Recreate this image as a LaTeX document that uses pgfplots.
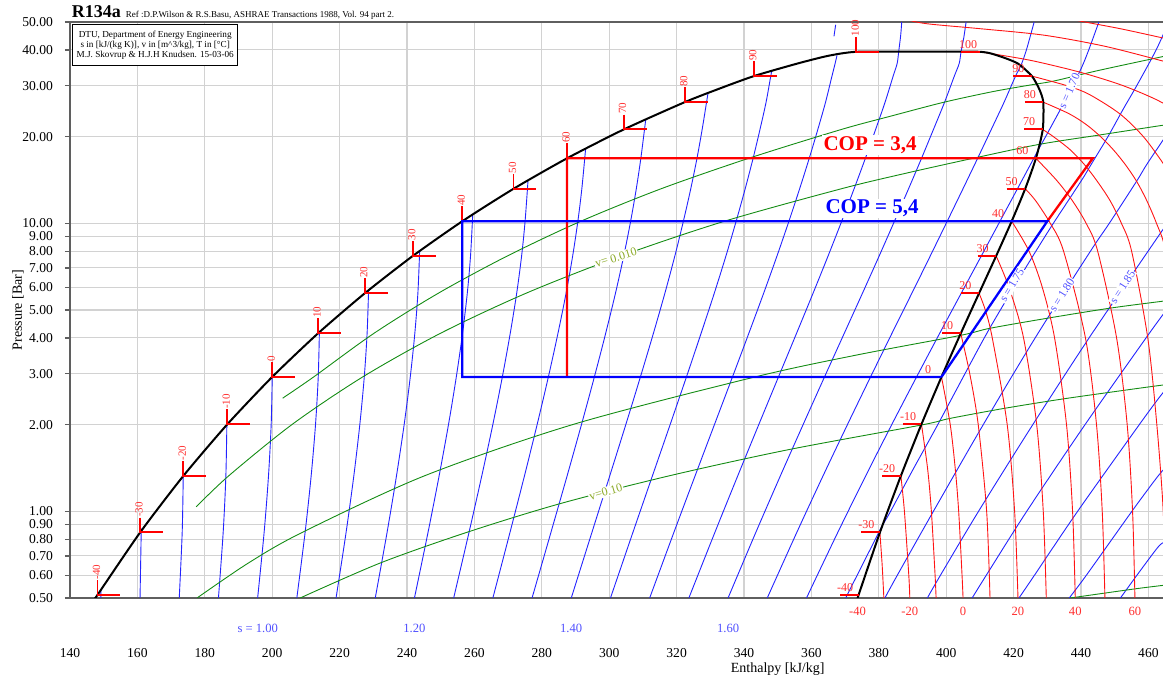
\documentclass[border=0pt]{standalone}
\usepackage{pgfplots}
\pgfplotsset{compat=1.18}
\usepackage{fontspec}
\setmainfont{Liberation Serif}
\definecolor{isen}{RGB}{35,35,255}
\definecolor{isoT}{RGB}{255,20,20}
\definecolor{isoV}{RGB}{20,140,20}
\definecolor{gridc}{RGB}{210,210,210}
\definecolor{axc}{RGB}{95,95,95}
\definecolor{slab}{RGB}{80,80,255}
\definecolor{tlab}{RGB}{255,45,45}
\definecolor{vlab}{RGB}{140,170,40}
\newcommand{\fs}[1]{\fontsize{#1}{#1}\selectfont}
\tikzset{
  ise/.style={draw=isen, line width=0.45pt, smooth},
  iso/.style={draw=isoT, line width=0.45pt, smooth},
  isv/.style={draw=isoV, line width=0.45pt, smooth},
  tk/.style={draw=red, line width=0.9pt},
  ll/.style={font=\fs{5.5}, text=tlab, rotate=90, anchor=west, inner sep=0.6pt, xshift=-0.5pt, yshift=0.5pt},
  vl/.style={font=\fs{6}, text=tlab, anchor=south, inner sep=0.6pt, yshift=1pt},
}
\begin{document}
\begin{tikzpicture}
\begin{axis}[
  name=ax, at={(0,0)}, anchor=south west,
  scale only axis, width=549.31pt, height=288pt,
  xmin=140, xmax=466, ymin=0.5, ymax=50, ymode=log,
  clip mode=individual,
  axis line style={draw=axc, line width=0.7pt},
  xtick={140,160,180,200,220,240,260,280,300,320,340,360,380,400,420,440,460},
  xticklabels={140,160,180,200,220,240,260,280,300,320,340,360,380,400,420,440,460},
  xticklabel style={anchor=center, yshift=-25pt, font=\fs{6.8}},
  xtick style={draw=none},
  ytick={0.5,0.6,0.7,0.8,0.9,1,2,3,4,5,6,7,8,9,10,20,30,40,50},
  yticklabels={0.50,0.60,0.70,0.80,0.90,1.00,2.00,3.00,4.00,5.00,6.00,7.00,8.00,9.00,10.00,20.00,30.00,40.00,50.00},
  yticklabel style={font=\fs{6.8}, xshift=-2.5pt},
  yminorticks=false,
  tick align=outside, major tick length=2.5pt,
  ytick style={draw=axc, line width=0.6pt},
  grid=major, major grid style={draw=gridc, line width=0.55pt},
]
% ---------- isentropes ----------
\addplot[ise, mark=none] coordinates {(149.15,0.5) (149.2,0.535)};
\addplot[ise, mark=none] coordinates {(160.78,0.5) (161.13,0.8438) (161.14,0.854)};
\addplot[ise, mark=none] coordinates {(172.42,0.5) (173.29,0.8438) (173.6,1.325)};
\addplot[ise, mark=none] coordinates {(184.05,0.5) (185.45,0.8438) (186.25,1.3273) (186.54,1.996)};
\addplot[ise, mark=none] coordinates {(195.68,0.5) (197.6,0.8438) (198.9,1.3273) (199.7,2.006) (200,2.928)};
\addplot[ise, mark=none] coordinates {(207.31,0.5) (209.76,0.8438) (211.56,1.3273) (212.86,2.006) (213.66,2.928) (214.0,4.19)};
\addplot[ise, mark=none] coordinates {(218.95,0.5) (221.92,0.8438) (224.22,1.3273) (226.01,2.006) (227.32,2.928) (228.16,4.146) (228.6,5.85)};
\addplot[ise, mark=none] coordinates {(230.58,0.5) (234.08,0.8438) (236.88,1.3273) (239.17,2.006) (240.97,2.928) (242.32,4.146) (243.23,5.717) (243.75,8.0)};
\addplot[ise, mark=none] coordinates {(242.21,0.5) (246.23,0.8438) (249.53,1.3273) (252.33,2.006) (254.63,2.928) (256.48,4.146) (257.89,5.717) (258.85,7.702) (259.5,10.715)};
\addplot[ise, mark=none] coordinates {(253.85,0.5) (258.39,0.8438) (262.19,1.3273) (265.49,2.006) (268.29,2.928) (270.63,4.146) (272.55,5.717) (274.01,7.702) (275.04,10.166) (275.91,14.08)};
\addplot[ise, mark=none] coordinates {(265.48,0.5) (270.55,0.8438) (274.85,1.3273) (278.64,2.006) (281.95,2.928) (284.79,4.146) (287.2,5.717) (289.16,7.702) (290.7,10.166) (291.88,13.179) (293.0,18.14)};
\addplot[ise, mark=none] coordinates {(277.11,0.5) (282.7,0.8438) (287.51,1.3273) (291.8,2.006) (295.6,2.928) (298.95,4.146) (301.86,5.717) (304.32,7.702) (306.36,10.166) (308.04,13.179) (309.39,16.818) (310.84,22.91)};
\addplot[ise, mark=none] coordinates {(288.74,0.5) (294.86,0.8438) (300.16,1.3273) (304.96,2.006) (309.26,2.928) (313.11,4.146) (316.52,5.717) (319.48,7.702) (322.01,10.166) (324.2,13.179) (326.05,16.818) (327.58,21.168) (328.89,26.332) (329.31,28.25)};
\addplot[ise, mark=none] coordinates {(300.38,0.5) (307.02,0.8438) (312.82,1.3273) (318.12,2.006) (322.92,2.928) (327.26,4.146) (331.18,5.717) (334.64,7.702) (337.67,10.166) (340.35,13.179) (342.7,16.818) (344.74,21.168) (346.55,26.332) (347.94,32.442) (348.24,33.81)};
\addplot[ise, mark=none] coordinates {(312.01,0.5) (319.18,0.8438) (325.48,1.3273) (331.27,2.006) (336.58,2.928) (341.42,4.146) (345.83,5.717) (349.79,7.702) (353.33,10.166) (356.51,13.179) (359.36,16.818) (361.9,21.168) (364.2,26.332) (366.1,32.442) (367.04,35.91) (367.6,38.3)};
\addplot[ise, mark=none] coordinates {(366.7,44.6) (367.2,48.9)};
\addplot[ise, mark=none] coordinates {(323.64,0.5) (331.34,0.8438) (338.14,1.3273) (344.43,2.006) (350.23,2.928) (355.58,4.146) (360.49,5.717) (364.95,7.702) (368.99,10.166) (372.67,13.179) (376.02,16.818) (379.05,21.168) (381.86,26.332) (384.26,32.442) (385.45,35.91) (385.9,39.4) (386.5,45) (386.8,50)};
\addplot[ise, mark=none] coordinates {(335.27,0.5) (343.49,0.8438) (350.79,1.3273) (357.59,2.006) (363.89,2.928) (369.74,4.146) (375.15,5.717) (380.11,7.702) (384.64,10.166) (388.83,13.179) (392.68,16.818) (396.21,21.168) (399.52,26.332) (402.41,32.442) (403.86,35.91) (404.4,39.4) (405.2,44) (405.9,50)};
\addplot[ise, mark=none] coordinates {(346.9,0.5) (355.65,0.8438) (363.45,1.3273) (370.75,2.006) (377.55,2.928) (383.89,4.146) (389.81,5.717) (395.27,7.702) (400.3,10.166) (404.98,13.179) (409.33,16.818) (413.37,21.168) (417.18,26.332) (420.57,32.442) (422.1,35.15) (423.8,40) (426.1,50)};
\addplot[ise, mark=none] coordinates {(358.54,0.5) (367.81,0.8438) (376.11,1.3273) (383.9,2.006) (391.21,2.928) (398.05,4.146) (404.46,5.717) (410.42,7.702) (415.96,10.166) (421.14,13.179) (425.99,16.818) (427.2,17.9) (429.5,20) (434,25) (437.5,30) (440.3,35) (442.3,40) (445.3,50)};
\addplot[ise, mark=none] coordinates {(370.17,0.5) (379.97,0.8438) (381.3,0.903) (383.5,1.0) (390.2,1.4) (397.5,2.0) (411.3,4.0) (420.1,6.0) (426.6,8.0) (431.8,10) (440.0,14) (443.0,16) (448,20) (452.6,25) (456.5,30) (462.3,40) (466,50)};
\addplot[ise, mark=none] coordinates {(381.8,0.5) (385.5,0.6) (396.2,1.0) (411.0,2.0) (426.4,4.0) (442.8,8.0) (448.4,10) (456.5,14) (459.5,16) (465,20) (467,22)};
\addplot[ise, mark=none] coordinates {(394.4,0.5) (398.3,0.6) (409.6,1.0) (425.7,2.0) (442.4,4.0) (459.9,8.0) (465.6,10)};
\addplot[ise, mark=none] coordinates {(407.7,0.5) (411.9,0.6) (423.9,1.0) (441.2,2.0) (459.3,4.0) (464.5,4.85)};
\addplot[ise, mark=none] coordinates {(421.6,0.5) (426.2,0.6) (439.0,1.0) (457.3,2.0) (463.4,2.5) (465,2.63)};
\addplot[ise, mark=none] coordinates {(436.5,0.5) (441.6,0.6) (455.1,1.0) (462.3,1.3) (464.6,1.4)};
\addplot[ise, mark=none] coordinates {(451.7,0.5) (456.6,0.6) (462.8,0.75) (464.6,0.78)};
% ---------- isochores ----------
\addplot[isv, mark=none] coordinates {(203.1,2.47) (212.31,2.928) (230.15,4.146) (249.29,5.717) (269.78,7.702) (291.59,10.166) (315.39,13.179) (341.41,16.818) (368.85,21.168) (384.0,23.63) (399.37,26.332) (414.1,28.7) (425.6,30.3) (432,31.2) (445,33.9) (463.7,37.8) (470,39.2)};
\addplot[isv, mark=none] coordinates {(177.45,1.036) (187.08,1.3273) (205.99,2.006) (226.86,2.928) (249.86,4.146) (275.33,5.717) (303.5,7.702) (334.2,10.166) (368.88,13.179) (387.8,14.9) (407.99,16.818) (427.61,18.8) (446,20.3) (464.3,21.9) (470,22.4)};
\addplot[isv, mark=none] coordinates {(177.7,0.5) (192.9,0.661) (208.83,0.8438) (245.15,1.3273) (289.51,2.006) (343.29,2.928) (373.5,3.49) (404.05,4.078) (413.0,4.32) (430.9,4.70) (448.9,5.08) (463.5,5.35) (470,5.47)};
\addplot[isv, mark=none] coordinates {(208.3,0.5) (232.0,0.661) (257.58,0.8438) (285.3,1.062) (317.74,1.3273) (353.0,1.635) (392.57,1.993) (401.0,2.10) (417.5,2.28) (434.9,2.458) (452.7,2.63) (461.8,2.72) (470,2.8)};
\addplot[isv, mark=none] coordinates {(436.8,0.5) (455.9,0.5376) (465,0.5543) (470,0.563)};
% ---------- isotherms (superheated) ----------
\addplot[iso, mark=none] coordinates {(381.5,0.5) (381.0,0.65) (380.32,0.8438)};
\addplot[iso, mark=none] coordinates {(389.2,0.5) (388.9,0.6) (387.6,1.0) (386.55,1.3273)};
\addplot[iso, mark=none] coordinates {(397.0,0.5) (396.7,0.6) (395.6,1.0) (394.5,1.4) (392.66,2.006)};
\addplot[iso, mark=none] coordinates {(405.0,0.5) (404.7,0.6) (403.7,1.0) (402.7,1.4) (401.2,2.0) (398.6,2.928)};
\addplot[iso, mark=none] coordinates {(413.0,0.5) (412.0,1.0) (409.5,2.0) (407.0,3.0) (404.32,4.1461)};
\addplot[iso, mark=none] coordinates {(421.3,0.5) (420.3,1.0) (418.1,2.0) (413.67,4.0) (411.6,5.0) (409.75,5.7171)};
\addplot[iso, mark=none] coordinates {(429.7,0.5) (428.8,1.0) (426.85,2.0) (422.95,4.0) (418.6,6.0) (414.82,7.702)};
\addplot[iso, mark=none] coordinates {(438.3,0.5) (437.5,1.0) (435.7,2.0) (432.16,4.0) (428.5,6.0) (424.59,8.0) (419.43,10.166)};
\addplot[iso, mark=none] coordinates {(447.1,0.5) (446.3,1.0) (444.6,2.0) (441.32,4.0) (434.83,8.0) (430.88,10.0) (426.5,12.0) (423.44,13.179)};
\addplot[iso, mark=none] coordinates {(456.0,0.5) (455.3,1.0) (453.7,2.0) (450.56,4.0) (444.95,8.0) (441.52,10.0) (437.4,12.0) (433.0,14.0) (428.4,16.0) (426.63,16.818)};
\addplot[iso, mark=none] coordinates {(465.1,0.5) (464.4,1.0) (462.5,2.0) (459.81,4.0) (455.02,8.0) (451.99,10.0) (448.6,12.0) (444.8,14.0) (441.0,16.0) (436.8,18.0) (431.8,20.0) (428.65,21.168)};
\addplot[iso, mark=none] coordinates {(469.1,4.0) (465.11,8.0) (462.39,10.0) (459.5,12.0) (456.48,14.0) (453.14,16.0) (449.6,18.0) (445.8,20.0) (441.6,22.0) (436.5,24.0) (428.81,26.332)};
\addplot[iso, mark=none] coordinates {(470.3,12.0) (467.5,14.0) (464.6,16.0) (458.5,20.0) (451.5,24.0) (442.5,28.0) (436.0,30.0) (425.42,32.442)};
\addplot[iso, mark=none] coordinates {(470,24) (462,27) (452,30.2) (440,33.4) (426,36.6) (416,38.4) (410,39.4)};
\addplot[iso, mark=none] coordinates {(388,51) (394.3,49.3) (410,47.4) (429,45.0) (447,41.2) (464.3,36.6) (470,35.2)};
\addplot[iso, mark=none] coordinates {(438,51) (440,50.3) (452,47.3) (464.3,44.0) (470,42.5)};
% ---------- saturation dome ----------
\addplot[draw=black, line width=1pt, smooth, tension=0.4, mark=none] coordinates {(147.5,0.5) (148.14,0.5121) (160.79,0.8438) (173.64,1.3273) (186.70,2.006) (200.00,2.928) (213.58,4.1461) (227.49,5.7171) (241.72,7.702) (256.41,10.166) (271.62,13.179) (287.50,16.818) (304.28,21.168) (322.39,26.332) (332.4,29.26) (342.93,32.442) (356,35.91) (365,38.16) (373.3,39.4) (391,39.45) (410,39.4) (415.5,38.16) (421.2,35.91) (425.42,32.442) (427.6,29.26) (428.81,26.332) (428.65,21.168) (426.63,16.818) (423.44,13.179) (419.43,10.166) (414.82,7.702) (409.75,5.7171) (404.32,4.1461) (398.60,2.928) (392.66,2.006) (386.55,1.3273) (380.32,0.8438) (374.00,0.5121) (373.8,0.5)};
% ---------- liquid-side isotherm ticks ----------
\addplot[tk, mark=none] coordinates {(148.14,0.5771) (148.14,0.5121) (154.94,0.5121)};
\addplot[tk, mark=none] coordinates {(160.79,0.9510) (160.79,0.846) (167.59,0.846)};
\addplot[tk, mark=none] coordinates {(173.64,1.4959) (173.64,1.3273) (180.44,1.3273)};
\addplot[tk, mark=none] coordinates {(186.70,2.2608) (186.70,2.006) (193.5,2.006)};
\addplot[tk, mark=none] coordinates {(200.00,3.2999) (200.00,2.928) (206.8,2.928)};
\addplot[tk, mark=none] coordinates {(213.58,4.6727) (213.58,4.155) (220.38,4.155)};
\addplot[tk, mark=none] coordinates {(227.49,6.4432) (227.49,5.7171) (234.29,5.7171)};
\addplot[tk, mark=none] coordinates {(241.72,8.6802) (241.72,7.702) (248.52,7.702)};
\addplot[tk, mark=none] coordinates {(256.41,11.457) (256.41,10.166) (263.21,10.166)};
\addplot[tk, mark=none] coordinates {(271.62,14.853) (271.62,13.179) (278.42,13.179)};
\addplot[tk, mark=none] coordinates {(287.50,18.954) (287.50,16.818) (294.3,16.818)};
\addplot[tk, mark=none] coordinates {(304.28,23.856) (304.28,21.2) (311.08,21.2)};
\addplot[tk, mark=none] coordinates {(322.39,29.676) (322.39,26.332) (329.19,26.332)};
\addplot[tk, mark=none] coordinates {(342.93,36.562) (342.93,32.442) (349.73,32.442)};
\addplot[tk, mark=none] coordinates {(373.30,44.4) (373.30,39.4) (380.1,39.4)};
% ---------- vapour-side isotherm ticks ----------
\addplot[tk, mark=none] coordinates {(368.5,0.5121) (374.00,0.5121)};
\addplot[tk, mark=none] coordinates {(374.82,0.846) (380.32,0.846)};
\addplot[tk, mark=none] coordinates {(381.05,1.3273) (386.55,1.3273)};
\addplot[tk, mark=none] coordinates {(387.16,2.006) (392.66,2.006)};
\addplot[tk, mark=none] coordinates {(393.1,2.928) (398.6,2.928)};
\addplot[tk, mark=none] coordinates {(398.82,4.155) (404.32,4.155)};
\addplot[tk, mark=none] coordinates {(404.25,5.7171) (409.75,5.7171)};
\addplot[tk, mark=none] coordinates {(409.32,7.702) (414.82,7.702)};
\addplot[tk, mark=none] coordinates {(413.93,10.166) (419.43,10.166)};
\addplot[tk, mark=none] coordinates {(417.94,13.179) (423.44,13.179)};
\addplot[tk, mark=none] coordinates {(421.13,16.818) (426.63,16.818)};
\addplot[tk, mark=none] coordinates {(423.15,21.2) (428.65,21.2)};
\addplot[tk, mark=none] coordinates {(423.31,26.332) (428.81,26.332)};
\addplot[tk, mark=none] coordinates {(419.92,32.442) (425.42,32.442)};
\addplot[tk, mark=none] coordinates {(404.5,39.4) (410,39.4)};
% ---------- cycles ----------
\addplot[draw=red, line width=1.15pt, mark=none] coordinates {(287.5,2.928) (287.5,16.818) (443.5,16.818) (430,10.166)};
\addplot[draw=blue, line width=1.15pt, mark=none] coordinates {(398.6,2.928) (430,10.166) (256.41,10.166) (256.41,2.928) (398.6,2.928)};
% ---------- labels: liquid side ----------
\node[ll] at (axis cs:148.14,0.5771) {-40};
\node[ll] at (axis cs:160.79,0.9510) {-30};
\node[ll] at (axis cs:173.64,1.4959) {-20};
\node[ll] at (axis cs:186.70,2.2608) {-10};
\node[ll] at (axis cs:200.00,3.2999) {0};
\node[ll] at (axis cs:213.58,4.6727) {10};
\node[ll] at (axis cs:227.49,6.4432) {20};
\node[ll] at (axis cs:241.72,8.6802) {30};
\node[ll] at (axis cs:256.41,11.457) {40};
\node[ll] at (axis cs:271.62,14.853) {50};
\node[ll] at (axis cs:287.50,18.954) {60};
\node[ll] at (axis cs:304.28,23.856) {70};
\node[ll] at (axis cs:322.39,29.676) {80};
\node[ll] at (axis cs:342.93,36.562) {90};
\node[ll] at (axis cs:373.30,44.4) {100};
% ---------- labels: vapour side ----------
\node[vl] at (axis cs:370.0,0.5121) {-40};
\node[vl] at (axis cs:376.3,0.846) {-30};
\node[vl] at (axis cs:382.5,1.3273) {-20};
\node[vl] at (axis cs:388.7,2.006) {-10};
\node[vl] at (axis cs:394.6,2.928) {0};
\node[vl] at (axis cs:400.3,4.155) {10};
\node[vl] at (axis cs:405.7,5.7171) {20};
\node[vl] at (axis cs:410.8,7.702) {30};
\node[vl] at (axis cs:415.4,10.166) {40};
\node[vl] at (axis cs:419.4,13.179) {50};
\node[vl] at (axis cs:422.6,16.818) {60};
\node[vl] at (axis cs:424.6,21.2) {70};
\node[vl] at (axis cs:424.8,26.332) {80};
\node[vl] at (axis cs:421.4,32.442) {90};
\node[vl] at (axis cs:406.5,39.4) {100};
% ---------- labels under the axis ----------
\node[font=\fs{6.3}, text=tlab] at ([yshift=-6.5pt]axis cs:373.7,0.5) {-40};
\node[font=\fs{6.3}, text=tlab] at ([yshift=-6.5pt]axis cs:389.2,0.5) {-20};
\node[font=\fs{6.3}, text=tlab] at ([yshift=-6.5pt]axis cs:405.0,0.5) {0};
\node[font=\fs{6.3}, text=tlab] at ([yshift=-6.5pt]axis cs:421.3,0.5) {20};
\node[font=\fs{6.3}, text=tlab] at ([yshift=-6.5pt]axis cs:438.3,0.5) {40};
\node[font=\fs{6.3}, text=tlab] at ([yshift=-6.5pt]axis cs:456.0,0.5) {60};
\node[font=\fs{6.3}, text=slab] at ([yshift=-15pt]axis cs:195.7,0.5) {s = 1.00};
\node[font=\fs{6.3}, text=slab] at ([yshift=-15pt]axis cs:242.2,0.5) {1.20};
\node[font=\fs{6.3}, text=slab] at ([yshift=-15pt]axis cs:288.7,0.5) {1.40};
\node[font=\fs{6.3}, text=slab] at ([yshift=-15pt]axis cs:335.3,0.5) {1.60};
% ---------- line labels ----------
\node[font=\fs{5.8}, text=slab, fill=white, inner sep=0.4pt, rotate=66] at (axis cs:436.5,28.8) {s = 1.70};
\node[font=\fs{5.8}, text=slab, fill=white, inner sep=0.4pt, rotate=59] at (axis cs:419.5,6.1) {s = 1.75};
\node[font=\fs{5.8}, text=slab, fill=white, inner sep=0.4pt, rotate=58] at (axis cs:434.3,5.64) {s = 1.80};
\node[font=\fs{5.8}, text=slab, fill=white, inner sep=0.4pt, rotate=57] at (axis cs:452.3,6.0) {s = 1.85};
\node[font=\fs{6}, text=vlab, fill=white, inner sep=0.5pt, rotate=17] at (axis cs:302,7.6) {v= 0.010};
\node[font=\fs{6}, text=vlab, fill=white, inner sep=0.5pt, rotate=16] at (axis cs:299,1.167) {v=0.10};
\node[font=\fs{10.5}\bfseries, text=red, fill=white, inner sep=0.6pt] at (axis cs:377.4,18.7) {COP = 3,4};
\node[font=\fs{10.5}\bfseries, text=blue, fill=white, inner sep=0.6pt] at (axis cs:378,11.25) {COP = 5,4};
% ---------- titles ----------
\node[anchor=base west, inner sep=0pt] at ([xshift=0.7pt,yshift=2pt]axis description cs:0,1) {\fs{9}\bfseries R134a\hspace{2.5pt}\fs{4.5}\mdseries Ref :D.P.Wilson \& R.S.Basu, ASHRAE Transactions 1988, Vol. 94 part 2.};
\node[draw=black, line width=0.7pt, fill=white, anchor=north west, inner sep=1pt, align=center, font=\fontsize{4.6}{5.1}\selectfont, minimum width=82.5pt, minimum height=20.5pt] at ([xshift=1pt,yshift=-1pt]axis description cs:0,1) {DTU, Department of Energy Engineering\\ s in [kJ/(kg K)], v in [m\textasciicircum 3/kg], T in [°C]\\ M.J. Skovrup \& H.J.H Knudsen. 15-03-06};
\node[font=\fs{7}] at ([yshift=-35.5pt]axis cs:350,0.5) {Enthalpy [kJ/kg]};
\node[font=\fs{7}, rotate=90] at ([xshift=-26pt]axis description cs:0,0.5) {Pressure [Bar]};
\end{axis}
\pgfresetboundingbox
\useasboundingbox (-35pt,-40pt) rectangle (546.5pt,299pt);
\end{tikzpicture}
\end{document}
